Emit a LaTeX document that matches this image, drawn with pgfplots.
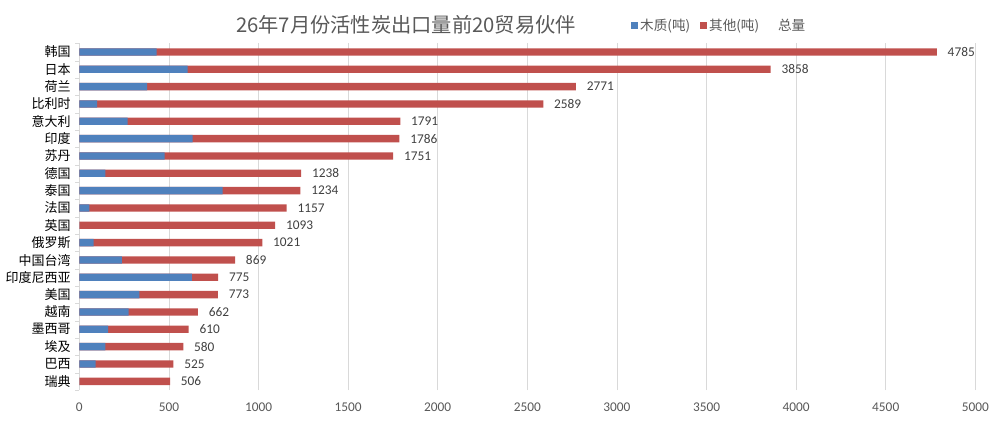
\documentclass[border=0pt]{standalone}
\usepackage{pgfplots}
\pgfplotsset{compat=1.18}
\usepackage{pgfplotstable}
\usepackage{fontspec}
\setmainfont{Carlito}
\newfontfamily\cjk{Noto Sans CJK SC}
\definecolor{wood}{HTML}{4F81BD}
\definecolor{other}{HTML}{C0504D}
\definecolor{txt}{HTML}{595959}
\definecolor{lbl}{HTML}{404040}
\definecolor{gridc}{HTML}{D9D9D9}
\pgfplotsset{sqlegend/.style={legend image code/.code={\fill[##1] (0pt,-2.6pt) rectangle (5.2pt,2.6pt);}}}

\pgfplotstableread{
idx wood other total
19 432 4353 4785
18 604 3254 3858
17 378 2393 2771
16 99 2490 2589
15 270 1521 1791
14 632 1154 1786
13 476 1275 1751
12 145 1093 1238
11 800 434 1234
10 56 1101 1157
9 0 1093 1093
8 80 941 1021
7 238 631 869
6 628 147 775
5 335 438 773
4 275 387 662
3 160 450 610
2 145 435 580
1 91 434 525
0 0 506 506
}\data

\begin{document}
\begin{tikzpicture}[x=1pt,y=1pt]
\useasboundingbox (-59.5,-26.25) rectangle (690.5,292.5);
\begin{axis}[
  at={(0,0)}, anchor=south west,
  scale only axis, width=672pt, height=260pt,
  xbar, bar width=5.5pt, bar shift=0pt,
  xmin=0, xmax=5000, ymin=-0.5, ymax=19.5,
  xtick={0,500,...,5000},
  ytick={0,...,19},
  yticklabels={瑞典,巴西,埃及,墨西哥,越南,美国,印度尼西亚,中国台湾,俄罗斯,英国,法国,泰国,德国,苏丹,印度,意大利,比利时,荷兰,日本,韩国},
  minor ytick={-0.5,0.5,...,19.5},
  major tick length=0pt, minor tick length=3pt,
  tick align=outside,
  minor tick style={gridc},
  axis x line*=bottom, axis y line*=left,
  x axis line style={draw=none},
  y axis line style={gridc},
  xmajorgrids, grid style={gridc, line width=0.6pt},
  scaled x ticks=false,
  /pgf/number format/1000 sep={},
  /pgf/number format/assume math mode=true,
  xticklabel style={font=\fontsize{10}{12}\selectfont, text=txt, yshift=-6pt},
  yticklabel style={font=\cjk\fontsize{9.75}{11}\selectfont, text=black, xshift=-3pt},
  title={26年7月份活性炭出口量前20贸易伙伴},
  title style={at={(axis description cs:0.3646,1.03)}, anchor=center, font=\cjk\fontsize{15.2}{17}\selectfont, text=txt},
  legend columns=3,
  legend style={draw=none, fill=none, at={(axis description cs:0.615,1.052)}, anchor=west, font=\cjk\fontsize{10.2}{12}\selectfont, text=txt, inner sep=0pt, /tikz/every even column/.append style={column sep=5pt}},
  legend cell align=left,
]
\addlegendimage{sqlegend, fill=wood, draw=none}
\addlegendentry{木质(吨)}
\addlegendimage{sqlegend, fill=other, draw=none}
\addlegendentry{其他(吨)}
\addlegendimage{sqlegend, fill=white, draw=none}
\addlegendentry{总量}
\addplot[fill=other, draw=none, forget plot,
  nodes near coords, point meta=explicit,
  nodes near coords style={anchor=west, inner sep=0pt, xshift=8pt, font=\fontsize{10}{12}\selectfont, text=lbl}] table[x=total, y=idx, meta=total] {\data};
\addplot[fill=wood, draw=none, forget plot] table[x=wood, y=idx] {\data};
\end{axis}
\end{tikzpicture}
\end{document}
